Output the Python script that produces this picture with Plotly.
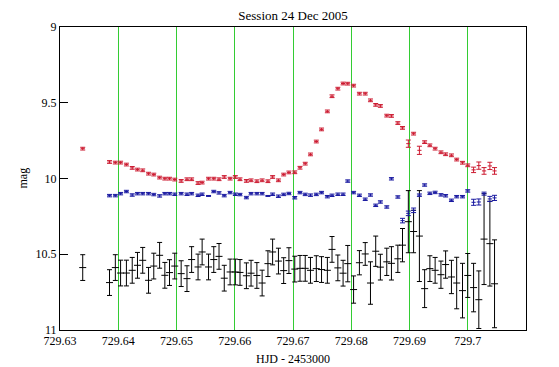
import plotly.graph_objects as go

# ---------------- data ----------------
hjd = [729.6339, 729.6385, 729.6395, 729.6404, 729.6414, 729.6424, 729.6433, 729.6442, 729.6452, 729.6461,
       729.6471, 729.6480, 729.6488, 729.6497, 729.6508, 729.6518, 729.6526, 729.6537, 729.6544, 729.6555,
       729.6564, 729.6573, 729.6582, 729.6592, 729.6601, 729.6609, 729.6620, 729.6628, 729.6638, 729.6647,
       729.6657, 729.6665, 729.6675, 729.6684, 729.6693, 729.6703, 729.6712, 729.6721, 729.6730, 729.6740,
       729.6749, 729.6759, 729.6767, 729.6777, 729.6786, 729.6794, 729.6804, 729.6814, 729.6824, 729.6833,
       729.6842, 729.6850, 729.6861, 729.6869, 729.6880, 729.6888, 729.6898, 729.6907, 729.6917, 729.6926,
       729.6935, 729.6944, 729.6954, 729.6962, 729.6972, 729.6981, 729.6991, 729.7000, 729.7010, 729.7019,
       729.7028, 729.7038, 729.7046]

red_mag = [9.803, 9.891, 9.895, 9.895, 9.908, 9.930, 9.941, 9.946, 9.968, 9.974,
           9.994, 10.001, 10.001, 10.007, 10.016, 10.005, 10.005, 10.030, 10.027, 10.001,
           10.001, 10.005, 9.990, 10.001, 9.990, 10.005, 10.016, 10.012, 10.018, 10.012,
           10.018, 9.990, 10.012, 9.974, 9.960, 9.959, 9.929, 9.902, 9.841, 9.756,
           9.676, 9.557, 9.457, 9.407, 9.373, 9.374, 9.387, 9.440, 9.440, 9.484,
           9.514, 9.521, 9.585, 9.587, 9.634, 9.666, 9.770, 9.704, 9.814, 9.760,
           9.781, 9.803, 9.827, 9.840, 9.847, 9.875, 9.896, 9.913, 9.943, 9.915,
           9.950, 9.917, 9.950]
red_err = [0.009] * 56 + [0.024, 0.009, 0.027] + [0.009] * 9 + [0.018, 0.024, 0.022, 0.024, 0.022]

blue_mag = [None, 10.113, 10.113, 10.100, 10.086, 10.109, 10.100, 10.100, 10.100, 10.106,
            10.115, 10.100, 10.100, 10.104, 10.100, 10.104, 10.100, 10.111, 10.104, 10.115,
            10.086, 10.095, 10.113, 10.093, 10.104, 10.106, 10.126, 10.100, 10.100, 10.100,
            10.115, 10.104, 10.117, 10.105, 10.099, 10.127, 10.093, 10.105, 10.110, 10.105,
            10.093, 10.120, 10.111, 10.104, 10.104, 10.017, 10.093, 10.111, 10.137, 10.109,
            10.177, 10.155, 10.188, 10.002, 10.122, 10.278, 10.230, 10.210, 10.110, 10.043,
            10.098, 10.092, 10.108, 10.114, 10.144, 10.120, 10.120, 10.082, 10.157, 10.155,
            10.100, 10.135, 10.128]
blue_err = ([0.008] * 19 + [0.003] + [0.008] * 10 + [0.003] + [0.008] * 24 +
            [0.015, 0.015, 0.015] + [0.008] * 10 + [0.02, 0.02, 0.01, 0.017, 0.017])

black_mag = [10.588, 10.687, 10.588, 10.624, 10.624, 10.606, 10.573, 10.540, 10.672, 10.578,
             10.507, 10.639, 10.621, 10.578, 10.628, 10.661, 10.535, 10.584, 10.485, 10.584,
             10.535, 10.514, 10.658, 10.617, 10.617, 10.620, 10.642, 10.625, 10.640, 10.690,
             10.562, 10.485, 10.545, 10.608, 10.542, 10.598, 10.593, 10.593, 10.606, 10.595,
             10.601, 10.606, 10.468, 10.590, 10.625, 10.562, 10.733, 10.556, 10.498, 10.690,
             10.480, 10.585, 10.550, 10.560, 10.530, 10.440, 10.285, 10.350, 10.380, 10.727,
             10.595, 10.606, 10.635, 10.568, 10.650, 10.690, 10.740, 10.640, 10.720, 10.800,
             10.400, 10.430, 10.695]
black_err = ([0.085] * 45 +
             [0.12, 0.09, 0.08, 0.075, 0.14, 0.10, 0.085, 0.09, 0.11, 0.09,
              0.11, 0.205, 0.14, 0.30, 0.125, 0.085, 0.085, 0.09, 0.09, 0.11,
              0.17, 0.18, 0.145, 0.16, 0.19, 0.30, 0.28, 0.29])

x_ticks = [729.63, 729.64, 729.65, 729.66, 729.67, 729.68, 729.69, 729.70]
x_tick_text = ["729.63", "729.64", "729.65", "729.66", "729.67", "729.68", "729.69", "729.7"]
y_ticks = [9, 9.5, 10, 10.5, 11]
y_tick_text = ["9", "9.5", "10", "10.5", "11"]

# ---------------- figure ----------------
FONT = "Liberation Serif, Times New Roman, serif"
RED = "#cc1a30"
BLUE = "#1818a0"
BLACK = "#000000"
GREEN = "#33cc33"

W, H = 551, 359          # page body adds an 8px margin
L, R, T, B = 52, 33, 19, 37
PW = W - L - R


def series(y, err, color, msize):
    return go.Scatter(
        x=hjd, y=y, mode="markers",
        marker=dict(symbol="line-ew", size=msize, color=color, line=dict(width=1, color=color)),
        error_y=dict(type="data", array=err, visible=True, color=color, thickness=1, width=2.5),
        showlegend=False, hoverinfo="skip",
    )


fig = go.Figure()
fig.add_trace(series(black_mag, black_err, BLACK, 5))
fig.add_trace(series(blue_mag, blue_err, BLUE, 3))
fig.add_trace(series(red_mag, red_err, RED, 3))

fig.update_layout(
    width=W, height=H,
    margin=dict(l=L, r=R, t=T, b=B, autoexpand=False),
    paper_bgcolor="white", plot_bgcolor="white",
    font=dict(family=FONT, size=12, color="black"),
    title=dict(text="Session 24 Dec 2005", x=0.5, xref="paper", xanchor="center",
               y=1 - 7 / H, yref="container", yanchor="middle",
               font=dict(family=FONT, size=13, color="black")),
    xaxis=dict(
        range=[729.63, 729.71], tickvals=x_ticks, ticktext=x_tick_text,
        showgrid=True, gridcolor=GREEN, gridwidth=1,
        showline=True, linecolor="black", linewidth=1, mirror=True,
        ticks="", zeroline=False, automargin=False,
        tickfont=dict(family=FONT, size=12, color="black"),
    ),
    yaxis=dict(
        range=[11, 9], tickvals=y_ticks, ticktext=y_tick_text,
        showgrid=False, showline=True, linecolor="black", linewidth=1, mirror=True,
        ticks="inside", ticklen=8, tickcolor="black", zeroline=False, automargin=False,
        tickfont=dict(family=FONT, size=12, color="black"),
    ),
    annotations=[
        dict(text="mag", textangle=-90, xref="paper", yref="paper",
             x=(14 - L) / PW, y=0.5, xanchor="center", yanchor="middle",
             showarrow=False, font=dict(family=FONT, size=12, color="black")),
        dict(text="HJD - 2453000", xref="paper", yref="paper",
             x=0.5, y=-(350.5 - (H - B)) / (H - T - B), xanchor="center", yanchor="middle",
             showarrow=False, font=dict(family=FONT, size=12, color="black")),
    ],
)

fig.write_html("out.html")
